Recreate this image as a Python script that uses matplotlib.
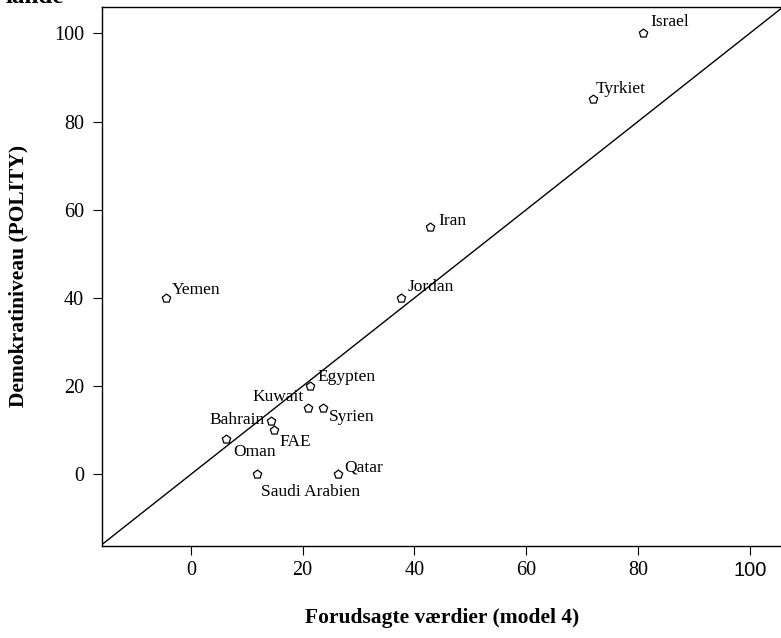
import matplotlib
matplotlib.use('Agg')
import matplotlib.pyplot as plt

# forudsagte vaerdier (model 4) og POLITY-niveau
lande = ['Israel', 'Tyrkiet', 'Iran', 'Jordan', 'Yemen', 'Egypten', 'Kuwait',
         'Syrien', 'Bahrain', 'FAE', 'Oman', 'Saudi Arabien', 'Qatar']
forudsagt = [80.9, 71.9, 42.8, 37.6, -4.4, 21.3, 20.9, 23.7, 14.3, 14.8, 6.2, 11.8, 26.3]
polity = [100, 85, 56, 40, 40, 20, 15, 15, 12, 10, 8, 0, 0]
xticks = [0, 20, 40, 60, 80, 100]
yticks = [0, 20, 40, 60, 80, 100]

# label offsets in pixels (dx, dy, ha)
offsets = {
    'Israel': (7, 7, 'left'),
    'Tyrkiet': (3, 6, 'left'),
    'Iran': (8, 2, 'left'),
    'Jordan': (7, 7, 'left'),
    'Yemen': (5, 4, 'left'),
    'Egypten': (8, 5, 'left'),
    'Kuwait': (-4, 7, 'right'),
    'Syrien': (6, -13, 'left'),
    'Bahrain': (-6, -3, 'right'),
    'FAE': (6, -16, 'left'),
    'Oman': (8, -17, 'left'),
    'Saudi Arabien': (4, -22, 'left'),
    'Qatar': (6, 3, 'left'),
}

serif = ['Liberation Serif', 'DejaVu Serif']
plt.rcParams['font.family'] = serif

fig = plt.figure(figsize=(7.81, 6.38), dpi=100, facecolor='#FFFFFF')
ax = fig.add_axes([101.5 / 781, 92 / 638, 679.5 / 781, 538.7 / 638])
ax.set_xlim(-16, 105.6)
ax.set_ylim(-16.25, 105.9)

# 45 graders linje
ax.plot([-16.25, 106], [-16.25, 106], color='black', lw=1.0, zorder=1)

ax.scatter(forudsagt, polity, marker='p', s=40, facecolors='white',
           edgecolors='black', linewidths=0.9, zorder=3)

for navn, x, y in zip(lande, forudsagt, polity):
    dx, dy, ha = offsets[navn]
    ax.annotate(navn, (x, y), xytext=(dx, dy), textcoords='offset pixels',
                ha=ha, va='baseline', fontsize=12.5, family=serif)

ax.set_xticks(xticks)
ax.set_yticks(yticks)
ax.tick_params(direction='out', length=6.5, width=0.8, labelsize=14.5)
ax.tick_params(axis='y', pad=6)
ax.tick_params(axis='x', pad=4.5)
labels = ax.get_xticklabels()
labels[-1].set_family(['Liberation Sans', 'DejaVu Sans'])

for s in ['left', 'bottom', 'top']:
    ax.spines[s].set_linewidth(1.0)
ax.spines['right'].set_visible(False)

fig.text(442 / 781, 1 - 618 / 638, 'Forudsagte værdier (model 4)', ha='center',
         va='center', fontsize=15.5, fontweight='bold')
fig.text(18 / 781, 1 - 276 / 638, 'Demokratiniveau (POLITY)', ha='center',
         va='center', rotation=90, fontsize=15.5, fontweight='bold')
# resten af titlen ligger uden for billedet i originalen
fig.text(6 / 781, 1 - 3 / 638, 'lande', ha='left', va='baseline',
         fontsize=18, fontweight='bold')

fig.savefig('out.png', dpi=100, facecolor='#FFFFFF')
